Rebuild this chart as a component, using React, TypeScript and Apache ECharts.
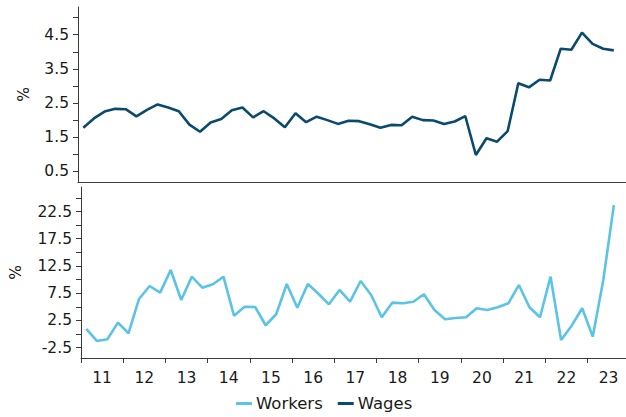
import React, { useEffect, useRef } from "react";
import * as echarts from "echarts";

const years = ["11", "12", "13", "14", "15", "16", "17", "18", "19", "20", "21", "22", "23"];
const firstYear = 11;

// Quarterly values, 2011 Q1 .. 2023 Q3
const wages = [
  1.78, 2.05, 2.25, 2.33, 2.32, 2.11, 2.3, 2.46, 2.37, 2.26, 1.87, 1.66, 1.93,
  2.03, 2.29, 2.37, 2.08, 2.26, 2.05, 1.79, 2.2, 1.94, 2.1, 2.0, 1.89, 1.98,
  1.97, 1.88, 1.78, 1.86, 1.85, 2.1, 2.0, 1.99, 1.89, 1.96, 2.12, 0.98, 1.47,
  1.37, 1.68, 3.08, 2.96, 3.18, 3.16, 4.09, 4.06, 4.56, 4.23, 4.09, 4.04,
];
const workers = [
  0.93, -1.27, -0.96, 2.09, 0.14, 6.44, 8.82, 7.6, 11.76, 6.25, 10.53, 8.51,
  9.13, 10.53, 3.37, 5.02, 4.97, 1.61, 3.63, 9.19, 4.84, 9.19, 7.4, 5.46, 8.09,
  5.94, 9.74, 7.17, 3.08, 5.76, 5.64, 5.94, 7.3, 4.42, 2.71, 2.95, 3.07, 4.73,
  4.42, 4.91, 5.64, 9.0, 4.91, 3.08, 10.53, -1.09, 1.54, 4.73, -0.48, 9.92,
  23.68,
];

const wagesLabels = [0.5, 1.5, 2.5, 3.5, 4.5];
const wagesTicks = [0.5, 1, 1.5, 2, 2.5, 3, 3.5, 4, 4.5, 5];
const workersLabels = [-2.5, 2.5, 7.5, 12.5, 17.5, 22.5];
const workersTicks = [-2.5, 0, 2.5, 5, 7.5, 10, 12.5, 15, 17.5, 20, 22.5, 25];

const FONT = "DejaVu Sans";
const TEXT = "#1a1a1a";
const AXIS = "#3a3a3a";
const DARK = "#0a4a6e";
const LIGHT = "#5bc3e6";

export default function App() {
  const ref = useRef<HTMLDivElement>(null);
  useEffect(() => {
    if (!ref.current) return;
    const chart = echarts.init(ref.current, null, { renderer: "svg" });
    const q = (arr: number[]) => arr.map((v, i) => [i + 0.5, v]);
    const yearTicks = years.map((_, i) => i * 4);
    const yearLabelPos = years.map((_, i) => i * 4 + 2);
    const xMax = 51.65;
    chart.setOption({
      animation: false,
      textStyle: { fontFamily: FONT },
      grid: [
        { left: 78, right: 0, top: 7, height: 175 },
        { left: 78, right: 0, top: 187, height: 171 },
      ],
      legend: {
        data: ["Workers", "Wages"],
        top: 395,
        left: 236,
        padding: 0,
        icon: "rect",
        itemWidth: 16,
        itemHeight: 3,
        itemGap: 15,
        textStyle: { fontFamily: FONT, fontSize: 16.5, color: TEXT, padding: [0, 0, 0, -1] },
      },
      xAxis: [
        {
          type: "value",
          gridIndex: 0,
          min: 0,
          max: xMax,
          axisLine: { show: true, lineStyle: { color: AXIS, width: 1 } },
          axisTick: { show: false },
          axisLabel: { show: false },
          splitLine: { show: false },
        },
        {
          type: "value",
          gridIndex: 1,
          min: 0,
          max: xMax,
          axisLine: { show: true, onZero: false, lineStyle: { color: AXIS, width: 1 } },
          axisTick: { show: true, customValues: yearTicks, length: 5, lineStyle: { color: AXIS } },
          axisLabel: {
            show: true,
            customValues: yearLabelPos,
            margin: 12,
            fontFamily: FONT,
            fontSize: 15.5,
            color: TEXT,
            formatter: (v: number) => String(firstYear + Math.round((v - 2) / 4)),
          },
          splitLine: { show: false },
        },
      ],
      yAxis: [
        {
          type: "value",
          gridIndex: 0,
          min: 0.19,
          max: 5.31,
          name: "%",
          nameLocation: "middle",
          nameGap: 46,
          nameTextStyle: { fontFamily: FONT, fontSize: 15.5, color: TEXT },
          axisLine: { show: true, lineStyle: { color: AXIS, width: 1 } },
          axisTick: { show: true, customValues: wagesTicks, length: 5, lineStyle: { color: AXIS } },
          axisLabel: {
            customValues: wagesLabels,
            margin: 9,
            fontFamily: FONT,
            fontSize: 15.5,
            color: TEXT,
            formatter: (v: number) => v.toFixed(1),
          },
          splitLine: { show: false },
        },
        {
          type: "value",
          gridIndex: 1,
          min: -4.4,
          max: 27.0,
          name: "%",
          nameLocation: "middle",
          nameGap: 57,
          nameTextStyle: { fontFamily: FONT, fontSize: 15.5, color: TEXT },
          axisLine: { show: true, onZero: false, lineStyle: { color: AXIS, width: 1 } },
          axisTick: { show: true, customValues: workersTicks, length: 5, lineStyle: { color: AXIS } },
          axisLabel: {
            customValues: workersLabels,
            margin: 9,
            fontFamily: FONT,
            fontSize: 15.5,
            color: TEXT,
            formatter: (v: number) => v.toFixed(1),
          },
          splitLine: { show: false },
        },
      ],
      series: [
        {
          name: "Workers",
          type: "line",
          xAxisIndex: 1,
          yAxisIndex: 1,
          data: q(workers),
          symbol: "none",
          lineStyle: { color: LIGHT, width: 2.6 },
          itemStyle: { color: LIGHT },
        },
        {
          name: "Wages",
          type: "line",
          xAxisIndex: 0,
          yAxisIndex: 0,
          data: q(wages),
          symbol: "none",
          lineStyle: { color: DARK, width: 2.6 },
          itemStyle: { color: DARK },
        },
      ],
    });
    return () => chart.dispose();
  }, []);
  return (
    <div
      ref={ref}
      style={{ position: "absolute", left: 0, top: 0, width: 626, height: 417, background: "#fff" }}
    />
  );
}
